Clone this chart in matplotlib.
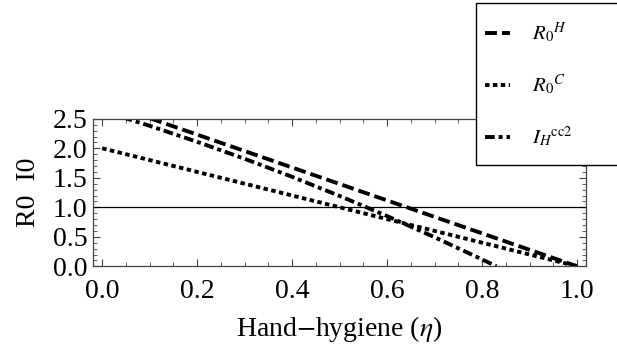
import matplotlib
matplotlib.use("Agg")
import matplotlib.pyplot as plt
from matplotlib.lines import Line2D
from matplotlib.patches import Rectangle
from matplotlib.ticker import MultipleLocator

plt.rcParams['font.family'] = ['Liberation Serif', 'DejaVu Serif']
plt.rcParams['mathtext.fontset'] = 'stix'
plt.rcParams['lines.scale_dashes'] = False

# --- data ---
eta_h = [0.0, 1.0]
r0_h = [2.79, 0.0]

eta_c = [0.0, 0.5, 1.0]
r0_c = [2.0, 1.0, 0.0]

eta_i = [0.0, 0.1, 0.2, 0.3, 0.4, 0.5, 0.6, 0.7, 0.8, 0.83]
i_h = [2.635, 2.381, 2.110, 1.822, 1.516, 1.192, 0.851, 0.492, 0.116, 0.0]

threshold = 1.0
x_ticks = [0.0, 0.2, 0.4, 0.6, 0.8, 1.0]
y_ticks = [0.0, 0.5, 1.0, 1.5, 2.0, 2.5]
labels = [r'$R_0{}^{H}$', r'$R_0{}^{C}$', r'$I_H{}^{\mathrm{cc2}}$']

styles = [
    dict(dashes=(8.6, 3.6)),
    dict(dashes=(3.2, 2.5)),
    dict(dashes=(7.0, 2.8, 2.9, 2.8)),
]
lw = 2.8

fig = plt.figure(figsize=(6.17, 3.54), dpi=100)
ax = fig.add_axes([92.7 / 617, 1 - 266.3 / 354, (585.7 - 92.7) / 617, (266.3 - 118.8) / 354])

ax.plot(eta_h, r0_h, color='black', lw=lw, **styles[0])
ax.plot(eta_c, r0_c, color='black', lw=lw, **styles[1])
ax.plot(eta_i, i_h, color='black', lw=lw, **styles[2])
ax.axhline(threshold, color='black', lw=0.9)

ax.set_xlim(-0.02, 1.018)
ax.set_ylim(0, 2.5)
ax.set_xticks(x_ticks)
ax.set_yticks(y_ticks)
ax.set_xticklabels([f'{v:.1f}' for v in x_ticks])
ax.set_yticklabels([f'{v:.1f}' for v in y_ticks])
ax.xaxis.set_minor_locator(MultipleLocator(0.05))
ax.yaxis.set_minor_locator(MultipleLocator(0.1))
ax.tick_params(which='both', direction='in', top=True, right=True, color='#444444')
ax.tick_params(which='major', length=5, width=0.8, labelsize=20)
ax.tick_params(which='minor', length=3, width=0.6)
ax.tick_params(axis='x', which='major', pad=9)
ax.tick_params(axis='y', which='major', pad=4)
for s in ax.spines.values():
    s.set_color('#444444')
    s.set_linewidth(0.9)

ax.set_xlabel(r'Hand$-$hygiene ($\eta$)', fontsize=20, labelpad=7)
ax.set_ylabel('R0  I0', fontsize=20, labelpad=8)

# legend box, drawn by hand so it runs off the right edge like the original
box = Rectangle((476 / 617, 1 - 165 / 354), 0.4, (165 - 3) / 354,
                transform=fig.transFigure, facecolor='white', edgecolor='black',
                lw=1.0, clip_on=False, zorder=5)
fig.add_artist(box)
for k, (lab, st) in enumerate(zip(labels, styles)):
    y = 1 - (33 + 52 * k) / 354
    fig.add_artist(Line2D([485 / 617, 510 / 617], [y, y], transform=fig.transFigure,
                          color='black', lw=lw, zorder=6, **st))
    fig.text(532 / 617, y, lab, fontsize=15, va='center', ha='left', zorder=6)

fig.savefig('out.png', dpi=100)
